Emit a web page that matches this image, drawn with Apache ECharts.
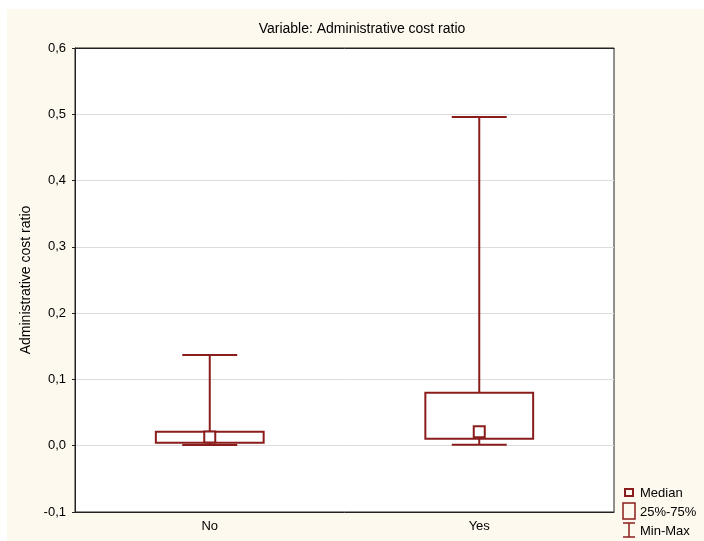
<!DOCTYPE html>
<html>
<head>
<meta charset="utf-8">
<script src="https://cdn.jsdelivr.net/npm/echarts@6/dist/echarts.min.js"></script>
<style>
  html, body {margin: 0; padding: 0; background: #ffffff;}
  #paper {position: absolute; left: 7px; top: 9px; width: 697px; height: 532px; background: #fdf9ee;}
  #chart {position: absolute; left: 0; top: 0; width: 704px; height: 541px;}
</style>
</head>
<body>
<div id="paper"></div>
<div id="chart"></div>
<script>
const categories = ["No", "Yes"];
const minVals = [0.001, 0.0015];
const q1Vals = [0.0045, 0.0105];
const medianVals = [0.013, 0.021];
const q3Vals = [0.021, 0.080];
const maxVals = [0.137, 0.496];

const boxColor = "#8b1c1c";
const font = "Liberation Sans, Arial, sans-serif";

const boxData = categories.map((c, i) => [i, minVals[i], q1Vals[i], medianVals[i], q3Vals[i], maxVals[i]]);

const renderBox = (params, api) => {
  const idx = api.value(0);
  const band = api.size([1, 0])[0];
  const boxW = band * 0.4;
  const capW = band * 0.204;
  const pMin = api.coord([idx, api.value(1)]);
  const pQ1 = api.coord([idx, api.value(2)]);
  const pMed = api.coord([idx, api.value(3)]);
  const pQ3 = api.coord([idx, api.value(4)]);
  const pMax = api.coord([idx, api.value(5)]);
  const x = pMed[0];
  const lineStyle = {stroke: boxColor, lineWidth: 2, fill: null};
  return {
    type: "group",
    children: [
      {type: "line", shape: {x1: x, y1: pMax[1], x2: x, y2: pQ3[1]}, style: lineStyle},
      {type: "line", shape: {x1: x, y1: pQ1[1], x2: x, y2: pMin[1]}, style: lineStyle},
      {type: "line", shape: {x1: x - capW / 2, y1: pMax[1], x2: x + capW / 2, y2: pMax[1]}, style: lineStyle},
      {type: "line", shape: {x1: x - capW / 2, y1: pMin[1], x2: x + capW / 2, y2: pMin[1]}, style: lineStyle},
      {type: "rect", shape: {x: x - boxW / 2, y: pQ3[1], width: boxW, height: pQ1[1] - pQ3[1]}, style: lineStyle},
      {type: "rect", shape: {x: x - 5.5, y: pMed[1] - 5.5, width: 11, height: 11}, style: {stroke: boxColor, lineWidth: 2, fill: "#ffffff"}},
    ],
  };
};

const fmt = (v) => v.toFixed(1).replace(".", ",");

const chart = echarts.init(document.getElementById("chart"));
chart.setOption({
  animation: false,
  textStyle: {fontFamily: font},
  grid: {left: 75, right: 90, top: 48, bottom: 29, show: true, backgroundColor: "#ffffff", borderColor: "#222222", borderWidth: 1},
  xAxis: [
    {
      type: "category", data: categories, position: "bottom",
      axisLine: {onZero: false, lineStyle: {color: "#222222"}},
      axisTick: {alignWithLabel: true, inside: true, length: 4, lineStyle: {color: "#222222"}},
      axisLabel: {color: "#000000", fontSize: 13, fontFamily: font, margin: 8},
    },
    {
      type: "category", data: categories, position: "top",
      axisLine: {onZero: false, lineStyle: {color: "#222222"}},
      axisTick: {alignWithLabel: true, inside: true, length: 4, lineStyle: {color: "#222222"}},
      axisLabel: {show: false},
    },
  ],
  yAxis: {
    type: "value", min: -0.1, max: 0.6, interval: 0.1,
    name: "Administrative cost ratio", nameLocation: "middle", nameRotate: 90, nameGap: 38,
    nameTextStyle: {color: "#000000", fontSize: 14, fontFamily: font},
    axisLine: {show: true, lineStyle: {color: "#222222"}},
    axisTick: {show: true, length: 3, lineStyle: {color: "#222222"}},
    axisLabel: {color: "#000000", fontSize: 13, fontFamily: font, margin: 9, formatter: fmt},
    splitLine: {lineStyle: {color: "#dcdcdc", width: 1}},
  },
  series: [
    {type: "custom", name: "box", renderItem: renderBox, data: boxData, encode: {x: 0, y: [1, 2, 3, 4, 5]}, z: 5},
  ],
  graphic: [
    {type: "text", x: 362, y: 29, style: {text: "Variable: Administrative cost ratio", fill: "#000000", font: "14px " + font, textAlign: "center", textVerticalAlign: "middle"}},
    {type: "rect", x: 625, y: 489, shape: {x: 0, y: 0, width: 8, height: 7}, style: {stroke: boxColor, lineWidth: 2, fill: "none"}},
    {type: "rect", x: 623, y: 503, shape: {x: 0, y: 0, width: 12, height: 16}, style: {stroke: boxColor, lineWidth: 1.5, fill: "none"}},
    {type: "line", shape: {x1: 623, y1: 523, x2: 635, y2: 523}, style: {stroke: boxColor, lineWidth: 1.5}},
    {type: "line", shape: {x1: 623, y1: 537, x2: 635, y2: 537}, style: {stroke: boxColor, lineWidth: 1.5}},
    {type: "line", shape: {x1: 629, y1: 523, x2: 629, y2: 537}, style: {stroke: boxColor, lineWidth: 1.5}},
    {type: "text", x: 640, y: 493, style: {text: "Median", fill: "#000000", font: "13px " + font, textVerticalAlign: "middle"}},
    {type: "text", x: 640, y: 512, style: {text: "25%-75%", fill: "#000000", font: "13px " + font, textVerticalAlign: "middle"}},
    {type: "text", x: 640, y: 531, style: {text: "Min-Max", fill: "#000000", font: "13px " + font, textVerticalAlign: "middle"}},
  ],
});
</script>
</body>
</html>
